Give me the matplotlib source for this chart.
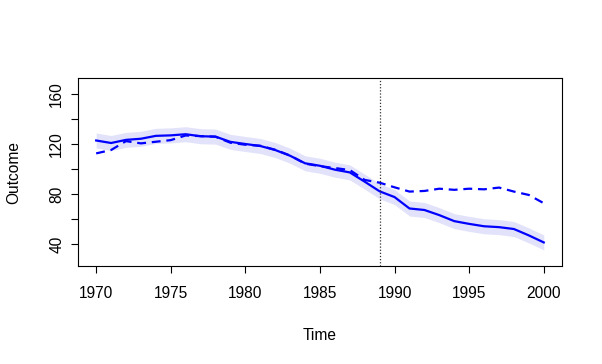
import matplotlib
matplotlib.use("Agg")
import matplotlib.pyplot as plt
import numpy as np

plt.rcParams['font.family'] = ['Liberation Sans', 'DejaVu Sans']

# Data
years = list(range(1970, 2001))
treated = [123.0, 121.0, 123.5, 124.4, 126.7, 127.1, 128.0, 126.4, 126.1, 121.9,
           120.2, 118.6, 115.4, 110.8, 104.8, 102.8, 99.7, 97.5, 90.1, 82.4,
           77.8, 68.7, 67.5, 63.4, 58.6, 56.4, 54.5, 53.8, 52.3, 47.2, 41.6]
synthetic = [112.7, 115.4, 122.5, 120.7, 122.0, 123.3, 127.0, 126.5, 126.0, 121.2,
             119.6, 118.8, 115.6, 111.0, 104.5, 102.5, 101.0, 99.4, 91.5, 89.3,
             85.6, 82.2, 82.7, 84.5, 83.6, 84.5, 84.0, 85.4, 82.2, 79.5, 72.9]
band_halfwidth = 6.0
treatment_year = 1989
x_ticks = [1970, 1975, 1980, 1985, 1990, 1995, 2000]
y_ticks = [40, 60, 80, 100, 120, 140, 160]
y_labels = ['40', '', '80', '', '120', '', '160']

fig = plt.figure(figsize=(6.02, 3.64), dpi=100)
ax = fig.add_axes([0.130, 0.269, 0.803, 0.516])

lo = np.array(treated) - band_halfwidth
hi = np.array(treated) + band_halfwidth
ax.fill_between(years, lo, hi, color='#E2E2FB', linewidth=0)
ax.plot(years, treated, color='#0000FF', lw=1.6)
ax.plot(years, synthetic, color='#0000FF', lw=1.6, ls=(0, (4, 2.6)))
ax.axvline(treatment_year, color='#333333', lw=0.9, ls=(0, (1, 1.5)))

ax.set_xlim(1968.8, 2001.2)
ax.set_ylim(22.7, 172.7)
ax.set_xticks(x_ticks)
ax.set_yticks(y_ticks)
ax.set_yticklabels(y_labels, rotation=90, va='center')
ax.tick_params(direction='out', length=5, width=0.8, labelsize=11.2)
ax.tick_params(axis='x', pad=9)
ax.tick_params(axis='y', pad=5)
for s in ax.spines.values():
    s.set_linewidth(0.8)

ax.set_xlabel('Time', fontsize=11.2, labelpad=20)
ax.set_ylabel('Outcome', fontsize=11.2, labelpad=20)

fig.savefig('out.png', dpi=100)
